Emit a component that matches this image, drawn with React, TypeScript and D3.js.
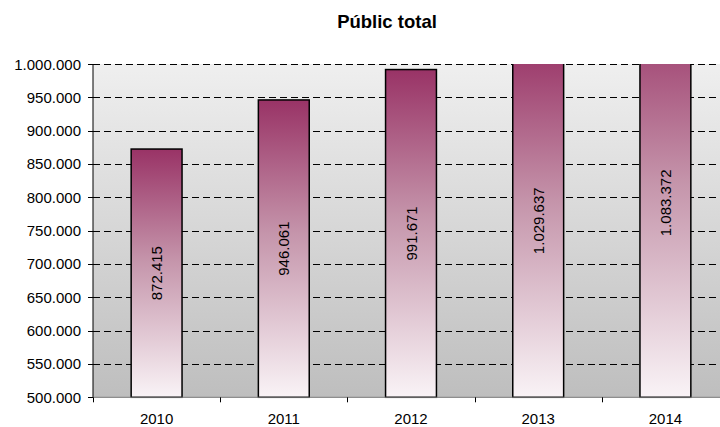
import React from "react";
import * as d3 from "d3";

const years = ["2010", "2011", "2012", "2013", "2014"];
const values = [872415, 946061, 991671, 1029637, 1083372];
const yTicks = [500000, 550000, 600000, 650000, 700000, 750000, 800000, 850000, 900000, 950000, 1000000];
const title = "Públic total";

const W = 720;
const H = 427;
const left = 93;
const right = 729;
const top = 64;
const bottom = 397.3;

const fmt = (v: number) => d3.format(",")(v).replace(/,/g, ".");

export default function App() {
  const x = d3.scaleBand<string>().domain(years).range([left, right]).paddingInner(0.6).paddingOuter(0.3);
  const y = d3.scaleLinear().domain([500000, 1000000]).range([bottom, top]);
  const step = x.step();
  const font = "'Liberation Sans', Arial, sans-serif";

  return (
    <svg width={W} height={H} style={{ position: "absolute", left: 0, top: 0 }} fontFamily={font}>
      <defs>
        <linearGradient id="bg" x1="0" y1="0" x2="0" y2="1">
          <stop offset="0" stopColor="#efefef" />
          <stop offset="1" stopColor="#bebebe" />
        </linearGradient>
        <linearGradient id="barg" x1="0" y1="0" x2="0" y2="1">
          <stop offset="0" stopColor="#993366" />
          <stop offset="0.45" stopColor="#c595ab" />
          <stop offset="1" stopColor="#f9f3f6" />
        </linearGradient>
        <clipPath id="plotclip">
          <rect x={left} y={top} width={right - left} height={bottom - top + 2} />
        </clipPath>
      </defs>
      <rect x={0} y={0} width={W} height={H} fill="#ffffff" />
      <text x={387} y={28} textAnchor="middle" fontWeight="bold" fontSize={18.5} fill="#000">
        {title}
      </text>
      <rect x={left} y={top} width={right - left} height={bottom - top} fill="url(#bg)" />
      {yTicks.map((t) => (
        <g key={t}>
          <line x1={left - 5} x2={left} y1={Math.round(y(t)) + 0.5} y2={Math.round(y(t)) + 0.5} stroke="#000" />
          {t > 500000 && (
            <line
              x1={left}
              x2={right}
              y1={Math.round(y(t)) + 0.5}
              y2={Math.round(y(t)) + 0.5}
              stroke="#000"
              strokeDasharray="7,4"
            />
          )}
          <text x={81} y={y(t)} textAnchor="end" dominantBaseline="central" fontSize={15} fill="#000">
            {fmt(t)}
          </text>
        </g>
      ))}
      <g clipPath="url(#plotclip)">
        {years.map((yr, i) => (
          <rect
            key={yr}
            x={x(yr)}
            y={y(values[i])}
            width={x.bandwidth()}
            height={y(500000) - y(values[i])}
            fill="url(#barg)"
            stroke="#000"
            strokeWidth={1.5}
          />
        ))}
      </g>
      <line x1={left} x2={left} y1={top} y2={bottom} stroke="#000" />
      <line x1={left} x2={right} y1={bottom} y2={bottom} stroke="#777" />
      {d3.range(years.length + 1).map((k) => (
        <line
          key={k}
          x1={Math.round(left + k * step) + 0.5}
          x2={Math.round(left + k * step) + 0.5}
          y1={bottom}
          y2={bottom + 5}
          stroke="#000"
        />
      ))}
      {years.map((yr, i) => {
        const cx = (x(yr) as number) + x.bandwidth() / 2;
        const cy = (y(values[i]) + y(500000)) / 2;
        return (
          <g key={yr}>
            <text x={cx} y={423.5} textAnchor="middle" fontSize={15} fill="#000">
              {yr}
            </text>
            <text
              transform={`translate(${cx},${cy}) rotate(-90)`}
              textAnchor="middle"
              dominantBaseline="central"
              fontSize={15}
              fill="#000"
            >
              {fmt(values[i])}
            </text>
          </g>
        );
      })}
    </svg>
  );
}
